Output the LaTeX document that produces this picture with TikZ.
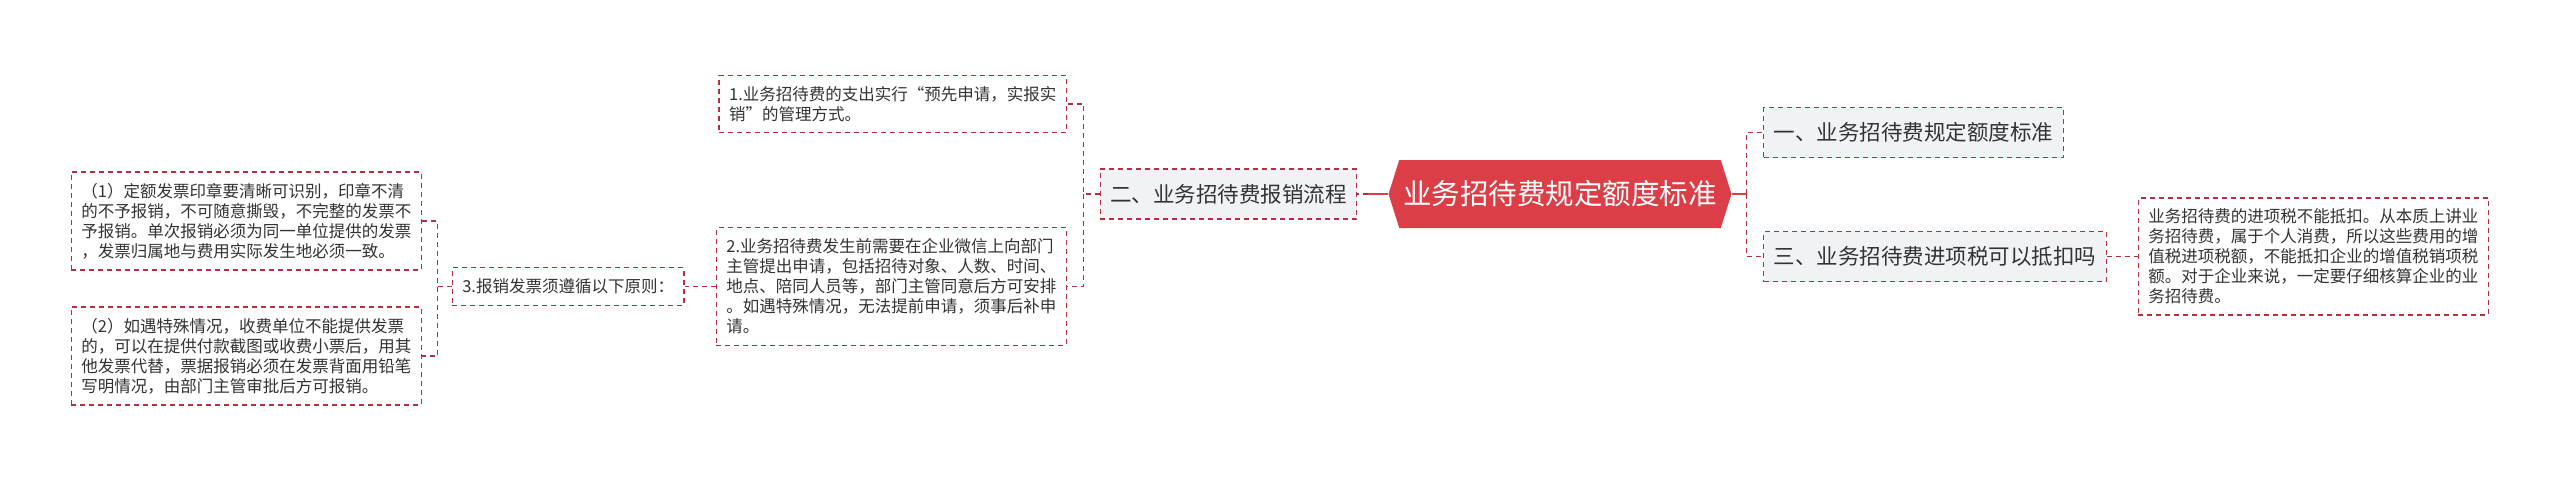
\documentclass[tikz,border=0pt]{standalone}
\usepackage{fontspec}
\newfontfamily\cjk{Noto Sans CJK SC}
\usepackage{tikz}
\usetikzlibrary{positioning, shapes.symbols}
\definecolor{rootred}{RGB}{219,62,70}
\definecolor{linkred}{RGB}{178,48,64}
\definecolor{boxgray}{RGB}{240,242,245}
\definecolor{txtgray}{RGB}{51,51,51}

\begin{document}
\begin{tikzpicture}[x=1pt, y=-1pt,
  rootbox/.style={
    signal, signal to=west and east, signal pointer angle=145,
    fill=rootred, text=white, minimum height=68pt, inner xsep=4pt,
    font=\cjk\fontsize{28.5pt}{32pt}\selectfont
  },
  topic/.style={
    draw=linkred, line width=1.3pt, dash pattern=on 5pt off 4pt,
    fill=boxgray, text=txtgray, inner xsep=10pt, minimum height=50pt,
    font=\cjk\fontsize{21.5pt}{26pt}\selectfont
  },
  note/.style={
    draw=linkred, line width=1.3pt, dash pattern=on 5pt off 4pt,
    fill=white, text=txtgray, align=left, inner xsep=10pt, inner ysep=11pt,
    font=\cjk\fontsize{16.5pt}{20pt}\selectfont
  },
  link/.style={linkred, line width=1.3pt, dash pattern=on 5pt off 4pt},
  trunk/.style={rootred, line width=1.6pt}
]
\useasboundingbox (0,0) rectangle (2560,480);
\fill[white] (0,0) rectangle (2560,480);

\node[rootbox] (root) at (1560,194) {业务招待费规定额度标准};

% left branch
\node[topic, left=31pt of root] (flow) {二、业务招待费报销流程};
\node[note, anchor=east] (step1) at (1067,104) {1.业务招待费的支出实行“预先申请，实报实\\销”的管理方式。};
\node[note, anchor=east] (step2) at (1067,286.5) {2.业务招待费发生前需要在企业微信上向部门\\主管提出申请，包括招待对象、人数、时间、\\地点、陪同人员等，部门主管同意后方可安排\\。如遇特殊情况，无法提前申请，须事后补申\\请。};
\node[note, left=31pt of step2] (rule) {3.报销发票须遵循以下原则：};
\node[note, anchor=east] (rule1) at (422,221) {（1）定额发票印章要清晰可识别，印章不清\\的不予报销，不可随意撕毁，不完整的发票不\\予报销。单次报销必须为同一单位提供的发票\\，发票归属地与费用实际发生地必须一致。};
\node[note, anchor=east] (rule2) at (422,356) {（2）如遇特殊情况，收费单位不能提供发票\\的，可以在提供付款截图或收费小票后，用其\\他发票代替，票据报销必须在发票背面用铅笔\\写明情况，由部门主管审批后方可报销。};

% right branch
\node[topic, anchor=west] (quota) at (1763,132.5) {一、业务招待费规定额度标准};
\node[topic, anchor=west] (tax) at (1763,256.5) {三、业务招待费进项税可以抵扣吗};
\node[note, right=31pt of tax] (taxnote) {业务招待费的进项税不能抵扣。从本质上讲业\\务招待费，属于个人消费，所以这些费用的增\\值税进项税额，不能抵扣企业的增值税销项税\\额。对于企业来说，一定要仔细核算企业的业\\务招待费。};

\draw[trunk] (root.west) -- ++(-20,0) coordinate (jl);
\draw[link] (jl) -- (flow.east);
\draw[link] (flow.west) -- ++(-16,0) coordinate (j2) |- (step1.east);
\draw[link] (j2) |- (step2.east);
\draw[link] (step2.west) -- (rule.east);
\draw[link] (rule.west) -- ++(-14,0) coordinate (j3) |- (rule1.east);
\draw[link] (j3) |- (rule2.east);

\draw[trunk] (root.east) -- ++(15,0) coordinate (jr);
\draw[link] (jr) |- (quota.west);
\draw[link] (jr) |- (tax.west);
\draw[link] (tax.east) -- (taxnote.west);
\end{tikzpicture}
\end{document}
